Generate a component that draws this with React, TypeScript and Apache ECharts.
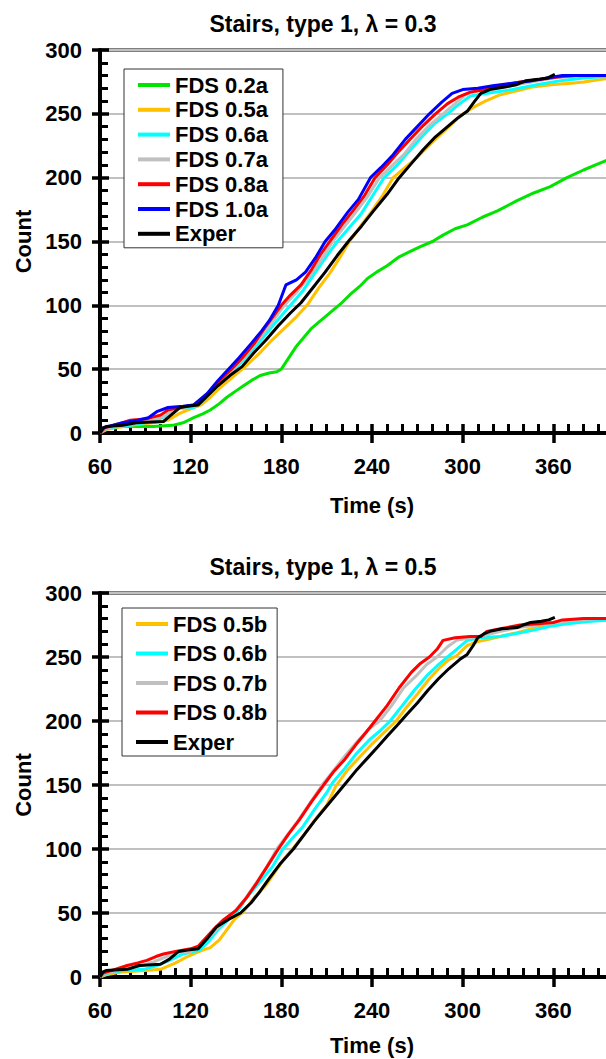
import React, { useEffect, useRef } from "react";
import * as echarts from "echarts";

const FONT = 'Arial, "Liberation Sans", sans-serif';

// ---------- Top chart: Stairs, type 1, lambda = 0.3 ----------
const topTitle = "Stairs, type 1, λ = 0.3";
const topNames = ["FDS 0.2a", "FDS 0.5a", "FDS 0.6a", "FDS 0.7a", "FDS 0.8a", "FDS 1.0a", "Exper"];
const topColors = ["#00E400", "#FFC000", "#00FFFF", "#C0C0C0", "#FF0000", "#0000FF", "#000000"];

const fds02a = [[60,0],[63,4],[68,5],[80,5],[95,5],[108,6],[115,8],[122,12],[128,15],[133,18],[139,23],[144,28],[150,33],[155,37],[160,41],[166,45],[172,47],[177,48],[180,50],[185,59],[190,68],[195,75],[200,82],[205,87],[210,92],[215,97],[220,102],[226,109],[232,115],[237,121],[243,126],[250,131],[258,138],[265,142],[272,146],[280,150],[287,155],[295,160],[303,163],[313,169],[323,174],[336,182],[347,188],[358,193],[369,200],[380,206],[390,211],[396,214],[405,218]];
const fds05a = [[60,0],[65,3],[80,6],[95,8],[105,10],[112,15],[120,19],[127,22],[133,28],[140,36],[149,45],[157,53],[166,63],[174,73],[182,82],[190,91],[197,100],[205,114],[212,125],[219,138],[225,150],[233,163],[240,174],[247,186],[254,200],[262,208],[270,216],[281,229],[291,240],[299,249],[307,255],[315,260],[325,265],[336,268],[346,271],[360,273],[372,274],[380,275],[392,277],[405,279],[420,280]];
const fds06a = [[60,0],[65,4],[80,6],[95,9],[105,14],[110,19],[122,20],[130,27],[140,40],[149,50],[158,61],[166,72],[175,85],[186,100],[194,111],[202,125],[209,137],[217,150],[225,161],[233,172],[241,187],[248,200],[256,209],[264,220],[273,232],[282,243],[290,250],[297,257],[305,264],[315,266],[333,269],[350,273],[365,276],[380,278],[392,279],[420,280]];
const fds07a = [[60,0],[64,4],[75,6],[85,8],[95,10],[102,13],[108,17],[114,20],[123,21],[131,29],[140,41],[148,50],[156,60],[164,72],[172,84],[182,100],[190,110],[198,122],[206,135],[214,150],[222,162],[230,174],[237,185],[245,200],[253,209],[261,218],[269,230],[278,241],[287,250],[295,258],[302,265],[310,268],[320,270],[332,272],[345,275],[360,278],[378,280],[420,280]];
const fds08a = [[60,0],[63,4],[72,7],[80,10],[90,11],[100,14],[105,18],[112,20],[122,22],[130,29],[138,40],[147,50],[155,60],[162,70],[170,84],[175,92],[180,100],[186,108],[193,116],[200,128],[206,140],[212,150],[220,163],[228,175],[235,186],[242,200],[250,210],[258,221],[266,231],[274,241],[282,250],[290,258],[297,263],[305,267],[315,269],[325,272],[338,275],[352,277],[364,279],[375,280],[420,280]];
const fds10a = [[60,0],[62,4],[65,5],[75,8],[85,10],[92,12],[98,17],[105,20],[115,21],[122,22],[131,31],[138,41],[145,50],[152,59],[160,70],[167,80],[172,88],[178,100],[183,116],[190,120],[196,126],[203,138],[209,150],[216,160],[224,173],[231,183],[239,200],[246,208],[254,218],[262,230],[270,240],[278,250],[286,259],[293,266],[300,269],[310,270],[320,272],[333,274],[346,276],[356,278],[366,280],[420,280]];
const experTop = [[60,0],[62,4],[64,5],[75,6],[84,8],[102,9],[106,13],[113,20],[118,21],[125,22],[131,29],[138,37],[146,45],[154,52],[162,63],[170,73],[178,84],[186,94],[193,102],[201,114],[209,126],[217,139],[225,151],[233,162],[241,174],[250,187],[258,200],[266,211],[274,222],[282,232],[290,240],[297,247],[303,252],[308,260],[312,266],[318,269],[328,271],[336,273],[342,276],[350,277],[356,278],[361,281]];
const topData = [fds02a, fds05a, fds06a, fds07a, fds08a, fds10a, experTop];

// ---------- Bottom chart: Stairs, type 1, lambda = 0.5 ----------
const botTitle = "Stairs, type 1, λ = 0.5";
const botNames = ["FDS 0.5b", "FDS 0.6b", "FDS 0.7b", "FDS 0.8b", "Exper"];
const botColors = ["#FFC000", "#00FFFF", "#C0C0C0", "#FF0000", "#000000"];

const fds05b = [[60,0],[65,2],[75,4],[90,5],[100,6],[110,11],[118,16],[122,18],[128,21],[133,23],[139,29],[144,37],[149,45],[155,51],[162,62],[170,72],[177,84],[183,94],[188,101],[195,111],[203,124],[210,134],[216,149],[224,162],[232,172],[240,182],[248,191],[256,200],[263,211],[270,221],[278,233],[285,242],[291,248],[296,251],[303,259],[310,262],[318,264],[328,267],[336,269],[345,272],[351,274],[365,276],[380,278],[395,279],[420,280]];
const fds06b = [[60,0],[65,3],[75,5],[89,6],[98,9],[106,13],[115,18],[126,21],[132,28],[139,38],[146,46],[152,53],[157,62],[165,73],[174,86],[181,100],[187,108],[194,117],[202,131],[210,144],[214,152],[222,163],[230,175],[238,185],[245,192],[252,200],[260,212],[268,224],[276,235],[283,243],[290,250],[297,257],[303,263],[312,265],[325,266],[338,269],[347,271],[358,274],[369,276],[385,278],[400,279],[420,280]];
const fds07b = [[60,0],[63,3],[72,5],[80,7],[88,9],[96,12],[104,16],[110,19],[120,20],[127,25],[134,33],[141,42],[149,51],[156,61],[163,73],[170,85],[177,100],[184,111],[191,122],[199,136],[207,150],[215,162],[223,174],[231,185],[238,194],[245,200],[253,212],[261,226],[269,235],[276,244],[283,250],[290,258],[296,263],[305,265],[315,267],[325,270],[337,273],[350,275],[362,277],[375,279],[390,280],[420,280]];
const fds08b = [[60,0],[62,3],[70,6],[78,9],[85,11],[91,13],[97,16],[102,18],[110,20],[120,22],[125,24],[128,28],[135,37],[142,45],[150,52],[157,62],[164,74],[171,87],[178,100],[185,112],[192,123],[200,137],[208,150],[215,161],[222,170],[229,181],[236,191],[242,200],[250,212],[258,226],[266,238],[272,245],[278,250],[283,256],[287,263],[295,265],[305,266],[312,266],[316,270],[325,272],[338,275],[350,276],[360,277],[366,279],[380,280],[420,280]];
const experBot = [[60,0],[62,4],[64,5],[78,6],[86,9],[100,10],[106,14],[112,20],[118,21],[125,22],[131,30],[137,39],[145,45],[153,50],[160,58],[166,67],[172,77],[179,88],[188,100],[195,111],[202,122],[209,132],[216,142],[223,152],[230,162],[237,171],[244,180],[250,188],[257,197],[263,205],[270,214],[277,224],[284,233],[291,241],[298,248],[303,252],[307,259],[310,265],[314,268],[318,270],[326,272],[336,273],[340,275],[345,277],[352,278],[357,279],[361,281]];
const botData = [fds05b, fds06b, fds07b, fds08b, experBot];

// axis ranges / ticks
const xMin = 60, xMax = 420, xStep = 60;
const yMin = 0, yMax = 300, yStep = 50;

const txt = { fontFamily: FONT, fontWeight: "bold" as const, fontSize: 22, color: "#000" };

function xAxesFor(gridIndex: number, nameGap: number) {
  return [
    {
      type: "value", gridIndex, min: xMin, max: xMax, interval: xStep, position: "bottom",
      name: "Time (s)", nameLocation: "middle", nameGap, nameTextStyle: { ...txt },
      axisLine: { show: true, onZero: false, lineStyle: { color: "#000", width: 4 } },
      axisTick: { show: true, inside: true, length: 9, lineStyle: { color: "#000", width: 3.5 } },
      minorTick: { show: true, splitNumber: 6, length: 9, lineStyle: { color: "#000", width: 3 } },
      axisLabel: { ...txt, margin: 22, showMaxLabel: false },
      splitLine: { show: false },
    },
    {
      type: "value", gridIndex, min: xMin, max: xMax, interval: xStep, position: "bottom",
      axisLine: { show: false, onZero: false },
      axisTick: { show: true, inside: false, length: 10, lineStyle: { color: "#000", width: 3.5 } },
      minorTick: { show: false },
      axisLabel: { show: false },
      splitLine: { show: false },
    },
  ];
}

function yAxesFor(gridIndex: number) {
  return [
    {
      type: "value", gridIndex, min: yMin, max: yMax, interval: yStep, position: "left",
      name: "Count", nameLocation: "middle", nameGap: 66, nameRotate: 90, nameTextStyle: { ...txt },
      axisLine: { show: true, onZero: false, lineStyle: { color: "#000", width: 4 } },
      axisTick: { show: true, inside: true, length: 9, lineStyle: { color: "#000", width: 3.5 } },
      minorTick: { show: true, splitNumber: 5, length: 8, lineStyle: { color: "#000", width: 3 } },
      axisLabel: { ...txt, margin: 18 },
      splitLine: { show: true, lineStyle: { color: "#C0C0C0", width: 2 } },
    },
    {
      type: "value", gridIndex, min: yMin, max: yMax, interval: yStep, position: "left",
      axisLine: { show: false, onZero: false },
      axisTick: { show: true, inside: false, length: 8, lineStyle: { color: "#000", width: 3.5 } },
      minorTick: { show: false },
      axisLabel: { show: false },
      splitLine: { show: false },
    },
  ];
}

function seriesFor(names: string[], colors: string[], data: number[][][], axisIndex: number) {
  return names.map((name, i) => ({
    type: "line",
    name,
    xAxisIndex: axisIndex,
    yAxisIndex: axisIndex,
    data: data[i],
    showSymbol: false,
    symbol: "none",
    lineStyle: { color: colors[i], width: 3 },
    itemStyle: { color: colors[i] },
    emphasis: { disabled: true },
    z: 2 + i,
  }));
}

export default function App() {
  const ref = useRef<HTMLDivElement>(null);
  useEffect(() => {
    if (!ref.current) return;
    const chart = echarts.init(ref.current, null, { renderer: "svg" });
    const legendCommon = {
      orient: "vertical",
      icon: "rect",
      itemWidth: 32,
      itemHeight: 4,
      backgroundColor: "#fff",
      borderColor: "#333",
      borderWidth: 1,
      selectedMode: false,
      textStyle: { ...txt, lineHeight: 20 },
    };
    chart.setOption({
      animation: false,
      backgroundColor: "#fff",
      title: [
        { text: topTitle, left: 318, top: 7, textAlign: "center", textStyle: { ...txt, fontSize: 23 } },
        { text: botTitle, left: 318, top: 550, textAlign: "center", textStyle: { ...txt, fontSize: 23 } },
      ],
      grid: [
        { left: 100, top: 50, width: 544, height: 383, show: true, borderColor: "#000", borderWidth: 3, backgroundColor: "transparent", outerBoundsMode: "none" },
        { left: 100, top: 593, width: 544, height: 384, show: true, borderColor: "#000", borderWidth: 3, backgroundColor: "transparent", outerBoundsMode: "none" },
      ],
      xAxis: [...xAxesFor(0, 61), ...xAxesFor(1, 57)],
      yAxis: [...yAxesFor(0), ...yAxesFor(1)],
      legend: [
        { ...legendCommon, data: topNames, left: 124, top: 69, itemGap: 2.8, padding: [5, 15, 3, 14] },
        { ...legendCommon, data: botNames, left: 122, top: 608, itemGap: 7.5, padding: [5, 10, 3, 14] },
      ],
      series: [
        ...seriesFor(topNames, topColors, topData, 0),
        ...seriesFor(botNames, botColors, botData, 2),
      ],
    });
    return () => chart.dispose();
  }, []);
  return (
    <div style={{ position: "absolute", left: 0, top: 0, width: 606, height: 1059, background: "#fff" }}>
      <div ref={ref} style={{ width: 606, height: 1059 }} />
    </div>
  );
}
